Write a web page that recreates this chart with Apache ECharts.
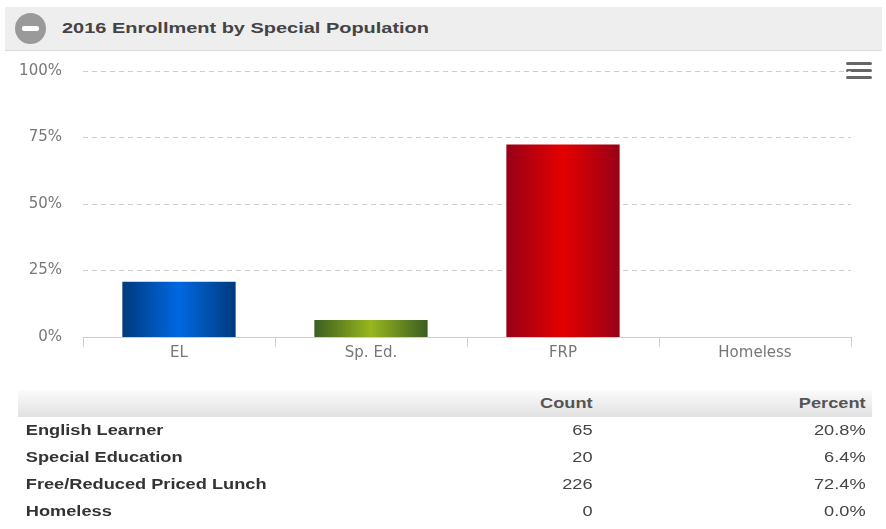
<!DOCTYPE html>
<html>
<head>
<meta charset="utf-8">
<style>
  body { margin: 0; width: 886px; height: 529px; background: #fff; position: relative; overflow: hidden; }
  #chart { position: absolute; left: 0; top: 0; width: 886px; height: 529px; }
  .hdr { position: absolute; left: 5px; top: 7px; width: 877px; height: 43px; background: #eeeeee; border-bottom: 1px solid #dcdcdc; }
  .hdr .ico { position: absolute; left: 10px; top: 6px; width: 31px; height: 31px; border-radius: 50%; background: #9a9a9a; }
  .hdr .ico i { position: absolute; left: 7px; top: 13px; width: 17px; height: 5px; border-radius: 2px; background: #fff; }
  .hdr .ttl { position: absolute; left: 57px; top: 12px; font: bold 15px "Liberation Sans", Arial, sans-serif; color: #444; transform: scaleX(1.33); transform-origin: left top; white-space: nowrap; }
  .tbl { position: absolute; left: 18px; top: 390px; width: 657px; transform: scaleX(1.3); transform-origin: left top; font: 14px "Liberation Sans", Arial, sans-serif; color: #444; }
  .tbl .row { position: relative; height: 27px; line-height: 27px; }
  .tbl .head { background: linear-gradient(#fbfbfb, #e1e1e1); font-weight: bold; color: #555; }
  .tbl .c1 { position: absolute; left: 6px; font-weight: bold; color: #333; }
  .tbl .c2 { position: absolute; right: 215px; text-align: right; }
  .tbl .c3 { position: absolute; right: 5px; text-align: right; }
</style>
</head>
<body>
<div id="chart"></div>
<div class="hdr"><div class="ico"><i></i></div><div class="ttl">2016 Enrollment by Special Population</div></div>
<div class="tbl" id="tbl"></div>
<script src="https://cdn.jsdelivr.net/npm/echarts@6/dist/echarts.min.js"></script>
<script type="text/javascript">
    // data
    var categories = ['EL', 'Sp. Ed.', 'FRP', 'Homeless'];
    var percentValues = [20.8, 6.4, 72.4, 0.0];
    var rowLabels = ['English Learner', 'Special Education', 'Free/Reduced Priced Lunch', 'Homeless'];
    var counts = [65, 20, 226, 0];

    // bar gradients (edge, centre)
    var barColors = [
        ['#003a7e', '#0068e0'],
        ['#3b5e20', '#98b61e'],
        ['#980018', '#e40000'],
        ['#555555', '#999999']
    ];

    function grad(c) {
        return new echarts.graphic.LinearGradient(0, 0, 1, 0, [
            { offset: 0, color: c[0] },
            { offset: 0.5, color: c[1] },
            { offset: 1, color: c[0] }
        ]);
    }

    var barData = percentValues.map(function (v, i) {
        return { value: v, itemStyle: { color: grad(barColors[i]) } };
    });

    var dom = document.getElementById('chart');
    var myChart = echarts.init(dom, null, { renderer: 'canvas' });

    myChart.setOption({
        animation: false,
        grid: { left: 83, right: 35, top: 71, bottom: 192 },
        xAxis: {
            type: 'category',
            data: categories,
            axisLine: { lineStyle: { color: '#c4d0de', width: 1 } },
            axisTick: { show: true, length: 10, lineStyle: { color: '#c4d0de' } },
            axisLabel: { color: '#777', fontSize: 15, fontFamily: 'DejaVu Sans', margin: 9 }
        },
        yAxis: {
            type: 'value',
            min: 0,
            max: 100,
            interval: 25,
            axisLine: { show: false },
            axisTick: { show: false },
            axisLabel: { color: '#777', fontSize: 15, fontFamily: 'DejaVu Sans', margin: 21, formatter: '{value}%' },
            splitLine: { lineStyle: { color: '#cccccc', type: [5, 4] } }
        },
        series: [{
            type: 'bar',
            data: barData,
            barWidth: '59%'
        }],
        graphic: [{
            type: 'group',
            left: 846,
            top: 62,
            children: [
                { type: 'rect', shape: { x: 0, y: 0, width: 26, height: 3, r: 1.5 }, style: { fill: '#666' } },
                { type: 'rect', shape: { x: 0, y: 7, width: 26, height: 3, r: 1.5 }, style: { fill: '#666' } },
                { type: 'rect', shape: { x: 0, y: 14, width: 26, height: 3, r: 1.5 }, style: { fill: '#666' } }
            ]
        }]
    });

    // table below the chart
    var html = '<div class="row head"><span class="c2">Count</span><span class="c3">Percent</span></div>';
    for (var i = 0; i < rowLabels.length; i++) {
        html += '<div class="row"><span class="c1">' + rowLabels[i] + '</span>' +
            '<span class="c2">' + counts[i] + '</span>' +
            '<span class="c3">' + percentValues[i].toFixed(1) + '%</span></div>';
    }
    document.getElementById('tbl').innerHTML = html;

    window.addEventListener('resize', function () {
        myChart.resize();
    });
</script>
</body>
</html>
